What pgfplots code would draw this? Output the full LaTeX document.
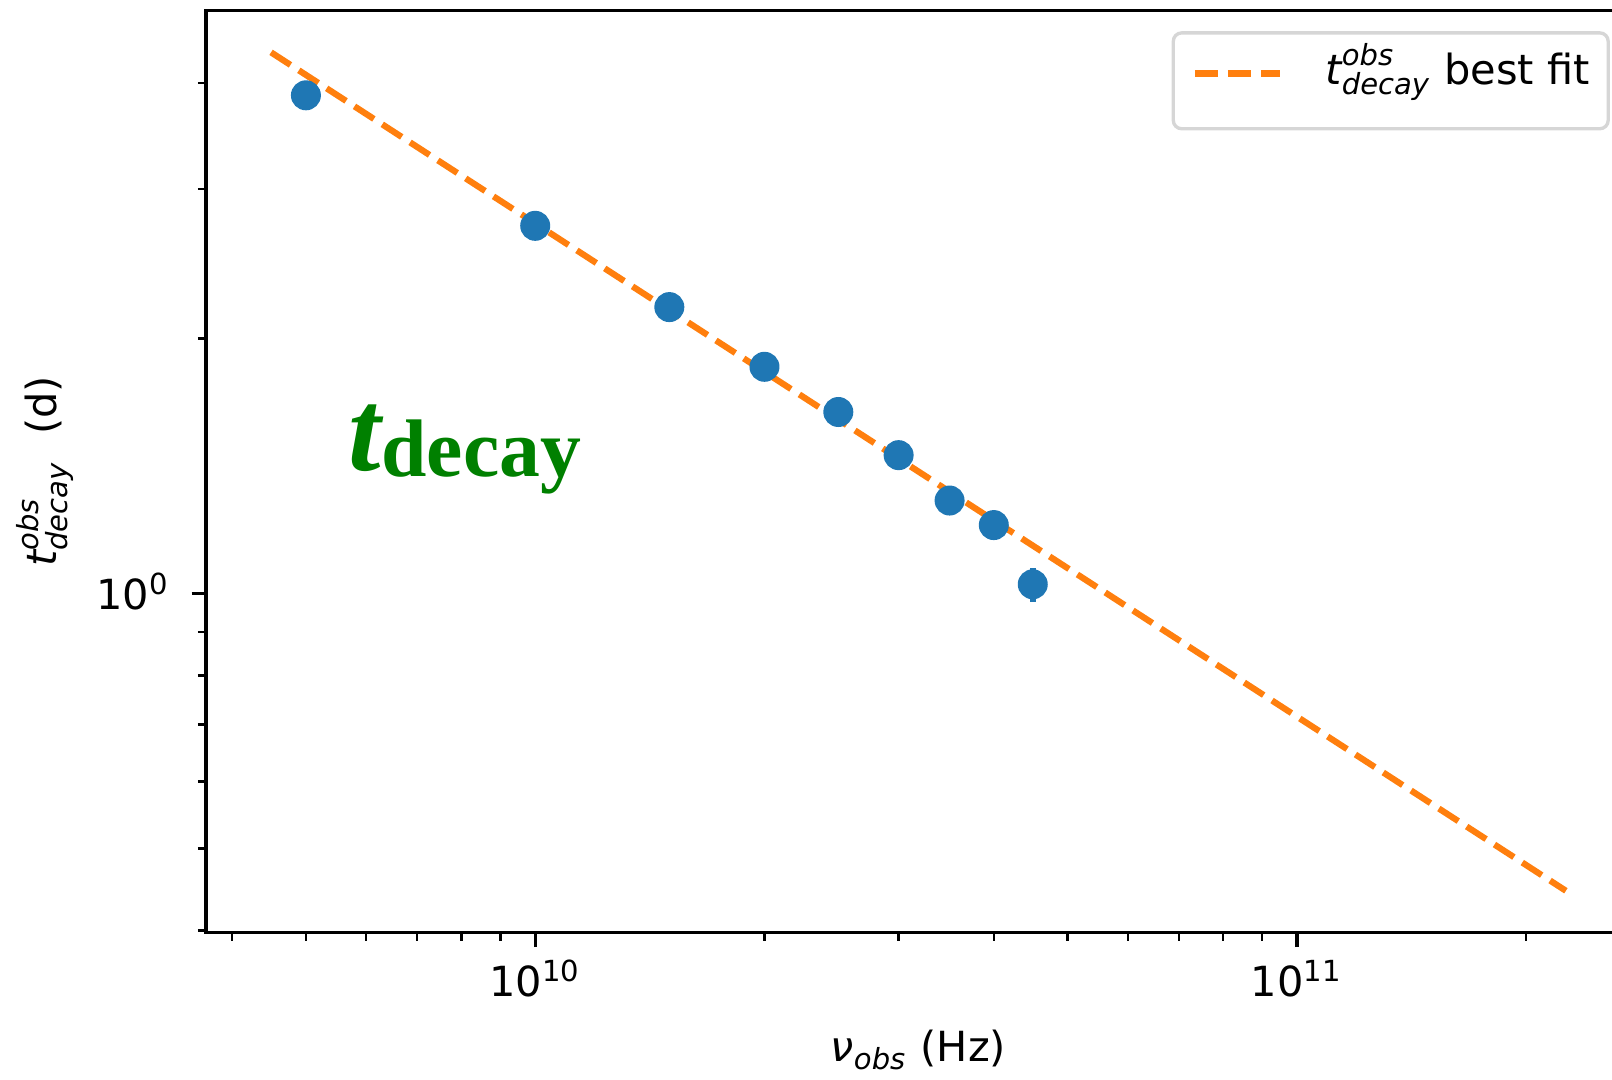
\documentclass[border=0pt]{standalone}
\usepackage{fontspec}
\setmainfont{DejaVu Sans}
\newfontfamily\tnr{Liberation Serif}
\usepackage{amsmath}
\usepackage{pgfplots}
\pgfplotsset{compat=1.18}
\definecolor{mplblue}{HTML}{1F77B4}
\definecolor{mplorange}{HTML}{FF7F0E}
\definecolor{mplgreen}{HTML}{008000}
\begin{document}
\begin{tikzpicture}
\begin{axis}[
  at={(0,0)}, anchor=south west,
  xmode=log, ymode=log,
  scale only axis, width=341.9bp, height=221.35bp,
  xmin=3.698e9, xmax=2.743e11, ymin=0.3978, ymax=4.875,
  axis line style={line width=0.8bp},
  tick align=outside, tick pos=left,
  major tick length=3.5bp, minor tick length=2bp,
  every tick/.style={black, line width=0.8bp},
  minor tick style={line width=0.6bp},
  xtick={1e10,1e11}, xticklabels={10\textsuperscript{10},10\textsuperscript{11}},
  ytick={1}, yticklabels={10\textsuperscript{0}},
  minor xtick={4e9,5e9,6e9,7e9,8e9,9e9,2e10,3e10,4e10,5e10,6e10,7e10,8e10,9e10,2e11},
  minor ytick={0.4,0.5,0.6,0.7,0.8,0.9,2,3,4},
  xticklabel style={anchor=base, inner sep=0pt, yshift=-11.86bp},
  yticklabel style={anchor=base east, inner sep=0pt, xshift=-5bp, yshift=-3.8bp},
  xlabel={$\textit{ν}_{\textit{obs}}$ (Hz)},
  ylabel={$\textit{t}^{\textit{obs}}_{\textit{decay}}$\ \ (d)},
  xlabel style={at={([yshift=-30.96bp]axis description cs:0.5,0)}, anchor=base, inner sep=0pt},
  ylabel style={at={([xshift=-35.8bp]axis description cs:0,0.5)}, anchor=base, inner sep=0pt},
  legend style={at={([xshift=-5bp,yshift=-5bp]axis description cs:1,1)}, anchor=north east,
    draw=black!16, line width=0.8bp, rounded corners=2bp, fill=white,
    inner xsep=4.4bp, inner ysep=0pt,
    nodes={inner sep=0pt, text height=12.4bp, text depth=10.6bp, anchor=base west}},
  legend cell align=left,
  legend image code/.code={\draw[#1] (0bp,2.64bp) -- (20.4bp,2.64bp); \path[draw=none] (0bp,2.64bp) -- (31.4bp,2.64bp);},
]
\addplot[mplorange, line width=1.5bp, dash pattern=on 5.55bp off 2.4bp] coordinates {(4.5e9,4.35) (2.255e11,0.4457)};
\addlegendentry{$\textit{t}^{\textit{obs}}_{\textit{decay}}$ best fit}
\addplot[only marks, mark=*, mark size=3.4bp, mark options={fill=mplblue, draw=mplblue, line width=0.4bp},
  error bars/.cd, y dir=both, y explicit, error bar style={mplblue, line width=1.5bp}, error mark=none]
  coordinates {
  (5e9,3.871) +- (0,0)
  (1e10,2.715) +- (0,0)
  (1.5e10,2.177) +- (0,0)
  (2e10,1.851) +- (0,0)
  (2.5e10,1.637) +- (0,0)
  (3e10,1.456) +- (0,0)
  (3.5e10,1.287) +- (0,0)
  (4e10,1.204) +- (0,0)
  (4.5e10,1.025) +- (0,0.047)
  };
\node[anchor=base west, inner sep=0pt, text=mplgreen] at (rel axis cs:0.0997,0.5017)
  {{\tnr\bfseries\itshape\fontsize{28bp}{30bp}\selectfont t}\raisebox{-1.5bp}{\tnr\bfseries\fontsize{19.6bp}{22bp}\selectfont decay}};
\end{axis}
\pgfresetboundingbox
\path[use as bounding box] (-49.44bp,-35.35bp) rectangle (337.44bp,223.85bp);
\end{tikzpicture}
\end{document}
